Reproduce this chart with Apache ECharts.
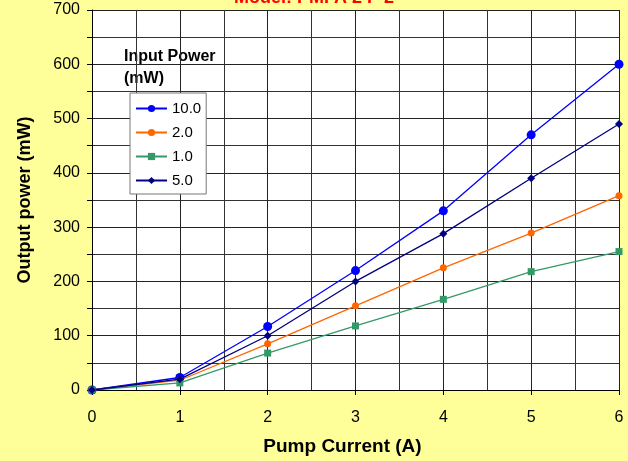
<!DOCTYPE html>
<html>
<head>
<meta charset="utf-8">
<script src="https://cdn.jsdelivr.net/npm/echarts@6/dist/echarts.min.js"></script>
<style>
  html, body { margin: 0; padding: 0; background: #ffff99; }
  #chart { width: 628px; height: 461px; }
</style>
</head>
<body>
<div id="chart"></div>
<script>
const current = [0, 1, 2, 3, 4, 5, 6];
const p10 = [0, 23, 117, 220, 330, 470, 600];
const p2 = [0, 18, 85, 155, 225, 289, 358];
const p1 = [0, 13, 68, 118, 167, 218, 255];
const p5 = [0, 20, 100, 200, 288, 390, 490];

const pairs = (ys) => current.map((x, i) => [x, ys[i]]);
const font = 'Liberation Sans, Arial, sans-serif';

const chart = echarts.init(document.getElementById('chart'));

chart.setOption({
  backgroundColor: '#ffff99',
  animation: false,
  title: {
    text: 'Model: PMFA 2 P 2',
    left: 'center',
    top: -16,
    textStyle: { color: '#ff0000', fontSize: 18, fontWeight: 'bold', fontFamily: font }
  },
  graphic: [{
    type: 'text',
    left: 124,
    top: 46,
    style: {
      text: 'Input Power\n(mW)',
      font: 'bold 16px ' + font,
      lineHeight: 22,
      fill: '#000'
    }
  }],
  legend: {
    orient: 'vertical',
    left: 130,
    top: 93,
    padding: [7, 5, 5, 5],
    itemGap: 7,
    itemWidth: 31,
    itemHeight: 9,
    backgroundColor: '#fff',
    borderColor: '#777',
    borderWidth: 1,
    borderRadius: 0,
    textStyle: { fontSize: 15, fontFamily: font, color: '#000', lineHeight: 17 },
    data: ['10.0', '2.0', '1.0', '5.0']
  },
  grid: {
    left: 92, right: 9, top: 10, bottom: 68,
    show: true, backgroundColor: '#fff', borderWidth: 0
  },
  xAxis: {
    type: 'value',
    min: 0, max: 6, interval: 1,
    name: 'Pump Current (A)',
    nameLocation: 'middle',
    nameGap: 47,
    nameTextStyle: { fontSize: 19, fontWeight: 'bold', fontFamily: font, color: '#000', padding: [0, 26, 0, 0] },
    axisLine: { lineStyle: { color: '#000', width: 1 } },
    axisTick: { show: true, length: 5, lineStyle: { color: '#000' } },
    axisLabel: { fontSize: 16, fontFamily: font, color: '#000', margin: 20 },
    splitLine: { show: true, lineStyle: { color: '#222', width: 1 } },
    minorTick: { show: false, splitNumber: 2 },
    minorSplitLine: { show: true, lineStyle: { color: '#333', width: 1 } }
  },
  yAxis: {
    type: 'value',
    min: 0, max: 700, interval: 100,
    name: 'Output power (mW)',
    nameLocation: 'middle',
    nameGap: 58,
    nameTextStyle: { fontSize: 18, fontWeight: 'bold', fontFamily: font, color: '#000' },
    axisLine: { show: true, lineStyle: { color: '#000', width: 1 } },
    axisTick: { show: true, length: 5, lineStyle: { color: '#000' } },
    axisLabel: { fontSize: 16, fontFamily: font, color: '#000', margin: 12 },
    splitLine: { show: true, lineStyle: { color: '#222', width: 1 } },
    minorTick: { show: true, splitNumber: 2, length: 5, lineStyle: { color: '#000' } },
    minorSplitLine: { show: true, lineStyle: { color: '#333', width: 1 } }
  },
  series: [
    { name: '10.0', type: 'line', data: pairs(p10), color: '#0000ff',
      symbol: 'circle', symbolSize: 9, lineStyle: { width: 1.3 } },
    { name: '2.0', type: 'line', data: pairs(p2), color: '#ff6600',
      symbol: 'circle', symbolSize: 7, lineStyle: { width: 1.3 } },
    { name: '1.0', type: 'line', data: pairs(p1), color: '#339966',
      symbol: 'rect', symbolSize: 7, lineStyle: { width: 1.3 } },
    { name: '5.0', type: 'line', data: pairs(p5), color: '#000080',
      symbol: 'diamond', symbolSize: 8, lineStyle: { width: 1.3 } }
  ]
});
</script>
</body>
</html>
